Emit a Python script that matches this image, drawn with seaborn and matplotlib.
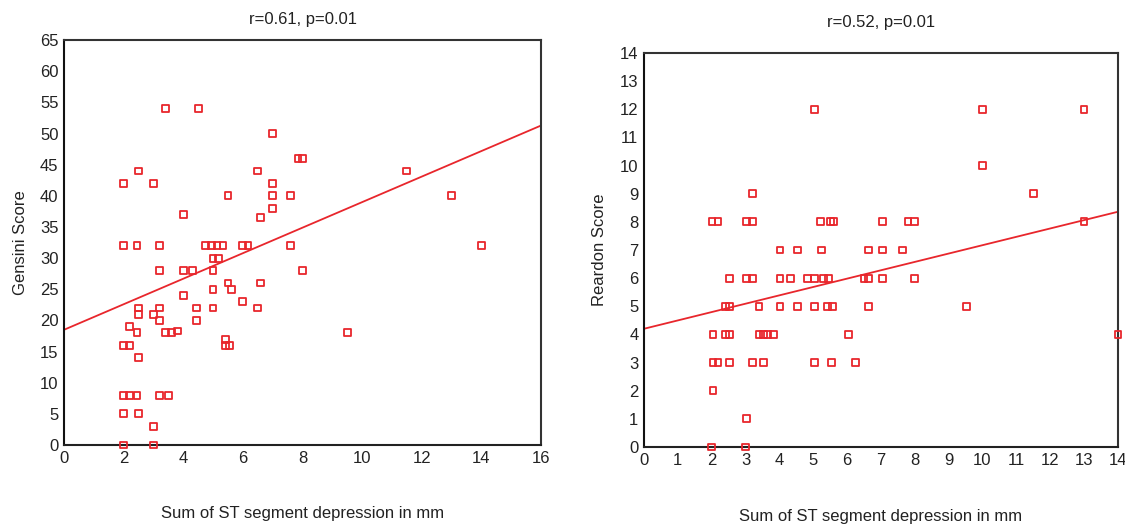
import matplotlib
matplotlib.use("Agg")
import matplotlib.pyplot as plt
import seaborn as sns
import numpy as np
import pandas as pd

# ---- Data ----
gensini_st = [2, 2, 2, 2.2, 2, 2.2, 2.45, 2, 2,
              2.2, 2.5, 2.45, 2.5, 2.5, 2.45, 2.5, 2.5,
              3, 3, 3, 3,
              3.2, 3.2, 3.2, 3.2, 3.2, 3.5,
              3.4, 3.4, 3.6, 3.8,
              4, 4, 4, 4.3,
              4.5, 4.45, 4.45,
              4.75, 4.95, 5.13, 5.33,
              5, 5.17, 5, 5, 5,
              5.43, 5.43, 5.55,
              5.5, 5.63, 5.5,
              6, 6, 6.17,
              6.5, 6.58, 6.5, 6.58,
              7, 7, 7, 7,
              7.6, 7.6, 7.85, 8, 8,
              9.5, 11.5, 13, 14]
gensini_score = [42, 32, 16, 16, 8, 8, 8, 5, 0,
                 19, 44, 32, 22, 21, 18, 14, 5,
                 42, 21, 3, 0,
                 32, 28, 22, 20, 8, 8,
                 54, 18, 18, 18.3,
                 37, 28, 24, 28,
                 54, 22, 20,
                 32, 32, 32, 32,
                 30, 30, 28, 25, 22,
                 17, 16, 16,
                 26, 25, 40,
                 23, 32, 32,
                 22, 26, 44, 36.5,
                 50, 42, 40, 38,
                 40, 32, 46, 46, 28,
                 18, 44, 40, 32]

reardon_st = [5.03, 10, 13, 10, 3.2, 11.5,
              2.01, 2.19, 3.02, 3.2, 5.21, 5.5, 5.6, 7.04, 7.8, 8.0, 13,
              4.02, 4.53, 5.24, 6.63, 7.04, 7.63,
              2.52, 3.02, 3.2, 4.02, 4.32, 4.82, 5.03, 5.3, 5.44, 6.5, 6.63, 7.04, 8.0,
              2.4, 2.52, 3.4, 4.02, 4.53, 5.03, 5.41, 5.56, 6.63, 9.52,
              2.04, 2.4, 2.52, 3.4, 3.52, 3.64, 3.82, 6.04, 14,
              2.04, 2.19, 2.52, 3.2, 3.52, 5.03, 5.53, 6.24,
              2.04, 3.02, 2, 3]
reardon_score = [12, 12, 12, 10, 9, 9,
                 8, 8, 8, 8, 8, 8, 8, 8, 8, 8, 8,
                 7, 7, 7, 7, 7, 7,
                 6, 6, 6, 6, 6, 6, 6, 6, 6, 6, 6, 6, 6,
                 5, 5, 5, 5, 5, 5, 5, 5, 5, 5,
                 4, 4, 4, 4, 4, 4, 4, 4, 4,
                 3, 3, 3, 3, 3, 3, 3, 3,
                 2, 1, 0, 0]

# fitted regression lines (intercept, slope)
fit_left = [18.5, 2.05]
fit_right = [4.2, 0.297]

titles = ["r=0.61, p=0.01", "r=0.52, p=0.01"]
ylabels = ["Gensini Score", "Reardon Score"]
xlabel = "Sum of ST segment depression in mm"

left_xticks = list(range(0, 17, 2))
left_yticks = list(range(0, 66, 5))
right_xticks = list(range(0, 15))
right_yticks = list(range(0, 15))

# ---- Style ----
sns.set_style("white")
plt.rcParams['font.family'] = ['Liberation Sans', 'DejaVu Sans']

RED = "#e8262c"
SPINE = "#333333"

fig = plt.figure(figsize=(11.25, 5.25), dpi=100)
axL = fig.add_axes([0.0569, 0.1524, 0.424, 0.771])
axR = fig.add_axes([0.5724, 0.1486, 0.4213, 0.7505])

dfL = pd.DataFrame({"x": gensini_st, "y": gensini_score})
dfR = pd.DataFrame({"x": reardon_st, "y": reardon_score})

def draw(ax, df, fit, xmax, ymax, xticks, yticks, title, ylabel, title_pad,
         xlab_y, ylab_x):
    sns.scatterplot(data=df, x="x", y="y", ax=ax, marker="s", s=24,
                    facecolor="none", edgecolor=RED, linewidth=1.3,
                    clip_on=False, zorder=3)
    lx = np.array([0, xmax])
    ly = fit[0] + fit[1] * lx
    sns.lineplot(x=lx, y=ly, ax=ax, color=RED, linewidth=1.3, zorder=2)
    ax.set_xlim(0, xmax)
    ax.set_ylim(0, ymax)
    ax.set_xticks(xticks)
    ax.set_yticks(yticks)
    ax.tick_params(axis="both", which="major", direction="inout", length=4,
                   width=2.2, color="black", labelsize=12, pad=2,
                   labelcolor="#222222")
    for sp in ax.spines.values():
        sp.set_visible(True)
        sp.set_color(SPINE)
        sp.set_linewidth(1.5)
    ax.spines["left"].set_color("#111111")
    ax.spines["bottom"].set_color("#222222")
    ax.set_title(title, fontsize=12, pad=title_pad, color="#222222")
    ax.set_xlabel(xlabel, fontsize=12, color="#222222")
    ax.set_ylabel(ylabel, fontsize=12, color="#222222")
    ax.xaxis.set_label_coords(0.5, xlab_y)
    ax.yaxis.set_label_coords(ylab_x, 0.5)

draw(axL, dfL, fit_left, 16, 65, left_xticks, left_yticks, titles[0],
     ylabels[0], 12, -0.15, -0.075)
draw(axR, dfR, fit_right, 14, 14, right_xticks, right_yticks, titles[1],
     ylabels[1], 19, -0.158, -0.078)

fig.savefig("out.png", dpi=100)
